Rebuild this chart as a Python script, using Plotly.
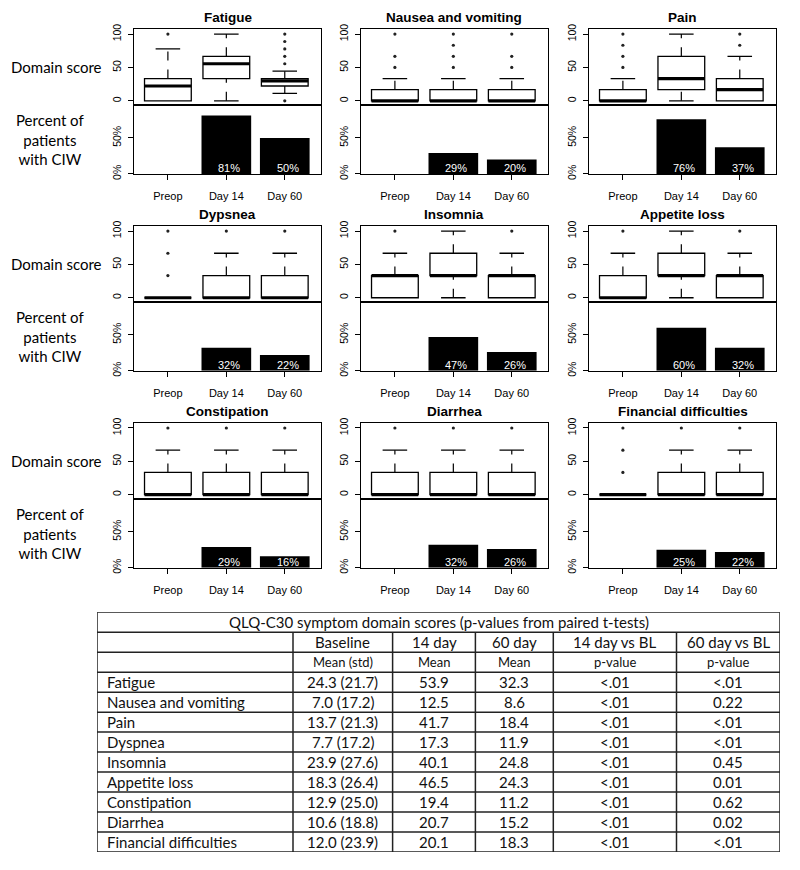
import plotly.graph_objects as go

# ------------------------------------------------------------------ data
domains = ["Fatigue", "Nausea and vomiting", "Pain",
           "Dypsnea", "Insomnia", "Appetite loss",
           "Constipation", "Diarrhea", "Financial difficulties"]
timepoints = ["Preop", "Day 14", "Day 60"]

box_q1 = [[0, 33.3, 22.2], [0, 0, 0], [0, 16.7, 0],
          [0, 0, 0], [0, 33.3, 0], [0, 33.3, 0],
          [0, 0, 0], [0, 0, 0], [0, 0, 0]]
box_median = [[22.2, 55.6, 30.0], [0, 0, 0], [0, 33.3, 16.7],
              [0, 0, 0], [33.3, 33.3, 33.3], [0, 33.3, 33.3],
              [0, 0, 0], [0, 0, 0], [0, 0, 0]]
box_q3 = [[33.3, 66.7, 33.3], [16.7, 16.7, 16.7], [16.7, 66.7, 33.3],
          [0, 33.3, 33.3], [33.3, 66.7, 33.3], [33.3, 66.7, 33.3],
          [33.3, 33.3, 33.3], [33.3, 33.3, 33.3], [0, 33.3, 33.3]]
whisker_low = [[0, 0, 11.1], [0, 0, 0], [0, 0, 0],
               [0, 0, 0], [0, 0, 0], [0, 0, 0],
               [0, 0, 0], [0, 0, 0], [0, 0, 0]]
whisker_high = [[77.8, 100, 44.4], [33.3, 33.3, 33.3], [33.3, 100, 66.7],
                [0, 66.7, 66.7], [66.7, 100, 66.7], [66.7, 100, 66.7],
                [66.7, 66.7, 66.7], [66.7, 66.7, 66.7], [0, 66.7, 66.7]]
outliers = [
    [[100], [], [0, 55.6, 66.7, 77.8, 88.9, 100]],
    [[50, 66.7, 100], [50, 66.7, 83.3, 100], [50, 66.7, 100]],
    [[50, 66.7, 83.3, 100], [], [83.3, 100]],
    [[33.3, 66.7, 100], [100], [100]],
    [[100], [], [100]],
    [[100], [], [100]],
    [[100], [100], [100]],
    [[100], [100], [100]],
    [[33.3, 66.7, 100], [100], [100]],
]
ciw_pct = [[0, 81, 50], [0, 29, 20], [0, 76, 37],
           [0, 32, 22], [0, 47, 26], [0, 60, 32],
           [0, 29, 16], [0, 32, 26], [0, 25, 22]]

# table data
table_title = "QLQ-C30 symptom domain scores (p-values from paired t-tests)"
table_header = ["", "Baseline", "14 day", "60 day", "14 day vs BL", "60 day vs BL"]
table_subheader = ["", "Mean (std)", "Mean", "Mean", "p-value", "p-value"]
table_labels = ["Fatigue", "Nausea and vomiting", "Pain", "Dyspnea", "Insomnia",
                "Appetite loss", "Constipation", "Diarrhea", "Financial difficulties"]
baseline_mean = [24.3, 7.0, 13.7, 7.7, 23.9, 18.3, 12.9, 10.6, 12.0]
baseline_sd = [21.7, 17.2, 21.3, 17.2, 27.6, 26.4, 25.0, 18.8, 23.9]
day14_mean = [53.9, 12.5, 41.7, 17.3, 40.1, 46.5, 19.4, 20.7, 20.1]
day60_mean = [32.3, 8.6, 18.4, 11.9, 24.8, 24.3, 11.2, 15.2, 18.3]
p_14_vs_bl = ["<.01", "<.01", "<.01", "<.01", "<.01", "<.01", "<.01", "<.01", "<.01"]
p_60_vs_bl = ["<.01", "0.22", "<.01", "<.01", "0.45", "0.01", "0.62", "0.02", "<.01"]

# ------------------------------------------------------------------ layout geometry
OFF = 8                      # default page body margin
W, H = 800, 870
FW, FH = W - 2 * OFF, H - 2 * OFF
col_left = [134, 361, 589]
panel_w = 187
row_top = [24, 223.5, 423]
upper_h, lower_h = 77, 70
X_RANGE = [-0.58, 2.62]
UP_RANGE = [-6, 108]
LOW_RANGE = [0, 96]
BOX_HALF = 0.4
CAP_HALF = 0.21
BAR_W = 0.85

TICK_FONT = dict(family="Liberation Sans, Arial", size=11, color="black")
YTICK_FONT = dict(family="Liberation Sans, Arial", size=10.5, color="black")
LABEL_FONT = dict(family="Lato, Open Sans", size=15, color="black")
TABLE_FONT = dict(family="Lato, Open Sans", size=15, color="#111")
SUB_FONT = dict(family="Lato, Open Sans", size=13, color="#111")


def py(y):
    return 1 - (y - OFF) / FH


def pxf(x):
    return (x - OFF) / FW


def ax_suffix(i):
    return "" if i == 1 else str(i)


fig = go.Figure()
layout_axes = {}
shapes = []
annotations = []

axis_common = dict(showline=True, mirror=True, linecolor="black", linewidth=1.3,
                   showgrid=False, zeroline=False, fixedrange=True)

for k, name in enumerate(domains):
    r, c = divmod(k, 3)
    x0 = col_left[c]
    x1 = x0 + panel_w
    top = row_top[r]
    mid = top + upper_h
    bot = mid + lower_h
    iu, il = 2 * k + 1, 2 * k + 2
    su, sl = ax_suffix(iu), ax_suffix(il)
    xu, yu, xl, yl = "x" + su, "y" + su, "x" + sl, "y" + sl

    layout_axes["xaxis" + su] = dict(domain=[pxf(x0), pxf(x1)], range=X_RANGE, anchor=yu,
                                     showticklabels=False, ticks="", **axis_common)
    layout_axes["yaxis" + su] = dict(domain=[py(mid), py(top)], range=UP_RANGE, anchor=xu,
                                     tickvals=[0, 50, 100], ticks="outside", ticklen=5,
                                     tickcolor="black", tickwidth=1.2, tickangle=-90,
                                     tickfont=YTICK_FONT, ticklabelstandoff=3, **axis_common)
    layout_axes["xaxis" + sl] = dict(domain=[pxf(x0), pxf(x1)], range=X_RANGE, anchor=yl,
                                     tickvals=[0, 1, 2], ticktext=timepoints, ticks="outside",
                                     ticklen=5, tickcolor="black", tickwidth=1.2,
                                     tickfont=TICK_FONT, ticklabelstandoff=7, **axis_common)
    layout_axes["yaxis" + sl] = dict(domain=[py(bot), py(mid)], range=LOW_RANGE, anchor=xl,
                                     tickvals=[0, 50], ticktext=["0%", "50%"], ticks="outside",
                                     ticklen=5, tickcolor="black", tickwidth=1.2, tickangle=-90,
                                     tickfont=YTICK_FONT, ticklabelstandoff=3, **axis_common)

    # bars: percent of patients with CIW
    vals = ciw_pct[k]
    fig.add_trace(go.Bar(
        x=[0, 1, 2], y=vals, width=BAR_W, xaxis=xl, yaxis=yl,
        marker=dict(color="black", line=dict(width=0)),
        showlegend=False, hoverinfo="skip"))
    for i, v in enumerate(vals):
        if v > 0:
            annotations.append(dict(text=f"{v}%", x=i + 0.05, y=0, xref=xl, yref=yl,
                                    showarrow=False, xanchor="center", yanchor="bottom",
                                    yshift=-2,
                                    font=dict(color="white", size=11,
                                              family="Liberation Sans, Arial")))

    # boxplots
    for i in range(3):
        q1, med, q3 = box_q1[k][i], box_median[k][i], box_q3[k][i]
        lo, hi = whisker_low[k][i], whisker_high[k][i]
        if hi > q3:
            shapes.append(dict(type="line", xref=xu, yref=yu, x0=i, x1=i, y0=q3, y1=hi,
                               line=dict(color="black", width=1.2, dash="dash")))
            shapes.append(dict(type="line", xref=xu, yref=yu, x0=i - CAP_HALF, x1=i + CAP_HALF,
                               y0=hi, y1=hi, line=dict(color="black", width=1.3)))
        if lo < q1:
            shapes.append(dict(type="line", xref=xu, yref=yu, x0=i, x1=i, y0=lo, y1=q1,
                               line=dict(color="black", width=1.2, dash="dash")))
            shapes.append(dict(type="line", xref=xu, yref=yu, x0=i - CAP_HALF, x1=i + CAP_HALF,
                               y0=lo, y1=lo, line=dict(color="black", width=1.3)))
        shapes.append(dict(type="rect", xref=xu, yref=yu, x0=i - BOX_HALF, x1=i + BOX_HALF,
                           y0=q1, y1=q3, fillcolor="white",
                           line=dict(color="black", width=1.3)))
        shapes.append(dict(type="line", xref=xu, yref=yu, x0=i - BOX_HALF, x1=i + BOX_HALF,
                           y0=med, y1=med, line=dict(color="black", width=3.2)))
        pts = outliers[k][i]
        if pts:
            fig.add_trace(go.Scatter(
                x=[i] * len(pts), y=pts, mode="markers", xaxis=xu, yaxis=yu,
                marker=dict(size=3.2, color="#222"), showlegend=False, hoverinfo="skip"))

    # panel title
    annotations.append(dict(text=f"<b>{name}</b>", x=pxf((x0 + x1) / 2), y=py(top - 11),
                            xref="paper", yref="paper", showarrow=False, xanchor="center",
                            yanchor="middle",
                            font=dict(family="Liberation Sans, Arial", size=13.5, color="black")))
    if c == 0:
        annotations.append(dict(text="Domain score", x=pxf(56), y=py(top + upper_h / 2),
                                xref="paper", yref="paper", showarrow=False,
                                xanchor="center", yanchor="middle", font=LABEL_FONT))
        annotations.append(dict(text="Percent of<br>patients<br>with CIW", x=pxf(50),
                                y=py(mid + lower_h / 2), xref="paper", yref="paper",
                                showarrow=False, xanchor="center", yanchor="middle",
                                font=LABEL_FONT))

# ------------------------------------------------------------------ table (own axis)
T_LEFT, T_RIGHT = 97, 780
T_TOP, T_BOT = 615, 858
col_widths = [196, 99.6, 82.8, 77.9, 123.2, 103.5]
n_rows = 3 + len(table_labels)
total_w = sum(col_widths)
col_edges = [0]
for w in col_widths:
    col_edges.append(col_edges[-1] + w)
TX, TY = "x19", "y19"
layout_axes["xaxis19"] = dict(domain=[pxf(T_LEFT), pxf(T_RIGHT)], range=[0, total_w],
                              anchor=TY, visible=False, fixedrange=True)
layout_axes["yaxis19"] = dict(domain=[py(T_BOT), py(T_TOP)], range=[n_rows, 0],
                              anchor=TX, visible=False, fixedrange=True)
tline = dict(color="#222", width=1.5)
for rr in range(n_rows + 1):
    shapes.append(dict(type="line", xref=TX, yref=TY, x0=0, x1=total_w, y0=rr, y1=rr,
                       line=tline))
for j, e in enumerate(col_edges):
    y_start = 0 if j in (0, len(col_edges) - 1) else 1
    shapes.append(dict(type="line", xref=TX, yref=TY, x0=e, x1=e, y0=y_start, y1=n_rows,
                       line=tline))

col_vals = [
    table_labels,
    [f"{m:.1f} ({s:.1f})" for m, s in zip(baseline_mean, baseline_sd)],
    [f"{v:.1f}" for v in day14_mean],
    [f"{v:.1f}" for v in day60_mean],
    p_14_vs_bl,
    p_60_vs_bl,
]


def cell_text(text, row, col, font):
    if not text:
        return
    if col == 0:
        x, anchor = col_edges[0] + 8, "left"
    else:
        x, anchor = (col_edges[col] + col_edges[col + 1]) / 2, "center"
    annotations.append(dict(text=text.replace("<", "&lt;"), x=x, y=row + 0.5, xref=TX, yref=TY,
                            showarrow=False, xanchor=anchor, yanchor="middle", font=font))


annotations.append(dict(text=table_title, x=total_w / 2, y=0.5, xref=TX, yref=TY,
                        showarrow=False, xanchor="center", yanchor="middle", font=TABLE_FONT))
for j, t in enumerate(table_header):
    cell_text(t, 1, j, TABLE_FONT)
for j, t in enumerate(table_subheader):
    cell_text(t, 2, j, SUB_FONT)
for j, col in enumerate(col_vals):
    for rr, t in enumerate(col):
        cell_text(t, 3 + rr, j, TABLE_FONT)

fig.update_layout(
    width=FW, height=FH, autosize=False,
    margin=dict(l=0, r=0, t=0, b=0),
    paper_bgcolor="white", plot_bgcolor="white",
    showlegend=False,
    shapes=shapes, annotations=annotations,
    **layout_axes,
)

fig.write_html("out.html")
